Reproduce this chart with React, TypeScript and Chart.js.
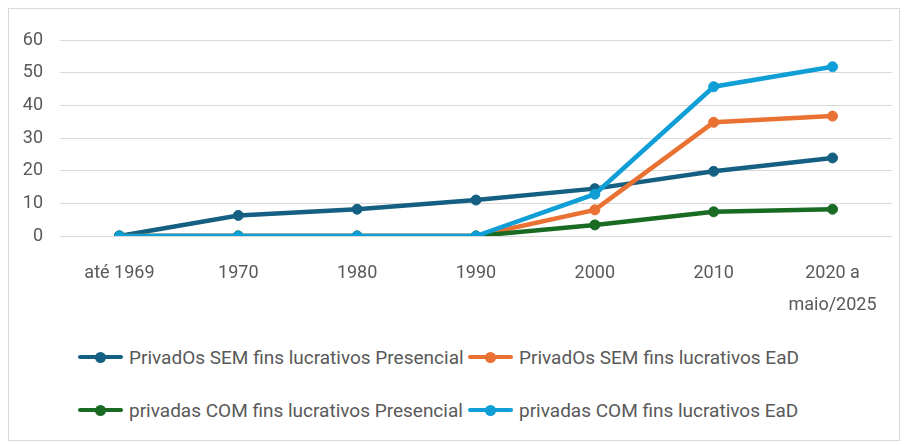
import React, { useEffect, useRef } from "react";
import { Chart, registerables } from "chart.js";

Chart.register(...registerables);

const categories: (string | string[])[] = ["até 1969", "1970", "1980", "1990", "2000", "2010", ["2020 a", "maio/2025"]];
const seriesNames = [
  "PrivadOs SEM fins lucrativos Presencial",
  "PrivadOs SEM fins lucrativos EaD",
  "privadas COM fins lucrativos Presencial",
  "privadas COM fins lucrativos EaD",
];
const semPresencial = [0, 6.3, 8.2, 11, 14.5, 19.8, 23.9];
const semEad = [0, 0, 0, 0, 8, 34.8, 36.7];
const comPresencial = [0, 0, 0, 0, 3.4, 7.4, 8.2];
const comEad = [0, 0, 0, 0, 12.8, 45.7, 51.8];
const seriesColors = ["#156082", "#E97132", "#196B24", "#0F9ED5"];
const yTicks = [0, 10, 20, 30, 40, 50, 60];

const FONT = "Roboto, 'Liberation Sans', Arial, sans-serif";
const TEXT = "#595959";

export default function App() {
  const ref = useRef<HTMLCanvasElement | null>(null);

  useEffect(() => {
    if (!ref.current) return;
    const values = [semPresencial, semEad, comPresencial, comEad];
    const orders = [3, 2, 1, 0];
    const chart = new Chart(ref.current, {
      type: "line",
      data: {
        labels: categories,
        datasets: values.map((v, i) => ({
          label: seriesNames[i],
          data: v,
          borderColor: seriesColors[i],
          backgroundColor: seriesColors[i],
          pointBackgroundColor: seriesColors[i],
          pointBorderColor: seriesColors[i],
          borderWidth: 4.5,
          pointRadius: 5,
          pointBorderWidth: 1,
          tension: 0,
          order: orders[i],
        })),
      },
      options: {
        animation: false,
        responsive: true,
        maintainAspectRatio: false,
        layout: { padding: { top: 31, right: 4, left: 0, bottom: 0 } },
        plugins: { legend: { display: false }, tooltip: { enabled: false } },
        scales: {
          x: {
            offset: true,
            grid: { display: false, drawTicks: false },
            border: { display: false },
            ticks: {
              color: TEXT,
              font: { family: FONT, size: 18, lineHeight: 1.75 },
              padding: 22,
              maxRotation: 0,
              autoSkip: false,
            },
            afterFit: (s: any) => {
              s.height = 93;
            },
          },
          y: {
            min: 0,
            max: 60,
            grid: { color: "#d9d9d9", lineWidth: 1, drawTicks: false },
            border: { display: false },
            ticks: {
              color: TEXT,
              font: { family: FONT, size: 18 },
              padding: 17,
              stepSize: 10,
              callback: (v: any) => (yTicks.includes(Number(v)) ? String(v) : ""),
            },
            afterFit: (s: any) => {
              s.width = 51;
            },
          },
        },
      },
    });
    return () => chart.destroy();
  }, []);

  const legendPos = [
    { left: 69, top: 348 },
    { left: 459, top: 348 },
    { left: 69, top: 401 },
    { left: 459, top: 401 },
  ];

  return (
    <div
      style={{
        position: "relative",
        width: 892,
        height: 433,
        boxSizing: "border-box",
        border: "1px solid #d9d9d9",
        background: "#fff",
      }}
    >
      <div style={{ position: "relative", width: 890, height: 320 }}>
        <canvas ref={ref} />
      </div>
      {seriesNames.map((name, i) => (
        <div
          key={name}
          style={{
            position: "absolute",
            left: legendPos[i].left,
            top: legendPos[i].top - 12,
            height: 24,
            display: "flex",
            alignItems: "center",
            fontFamily: FONT,
            fontSize: 19,
            color: TEXT,
            whiteSpace: "nowrap",
          }}
        >
          <span style={{ position: "relative", width: 45, height: 24, display: "inline-block", marginRight: 6 }}>
            <span
              style={{
                position: "absolute",
                left: 0,
                top: 9.75,
                width: 45,
                height: 4.5,
                background: seriesColors[i],
                borderRadius: 2,
              }}
            />
            <span
              style={{
                position: "absolute",
                left: 17,
                top: 6.5,
                width: 11,
                height: 11,
                borderRadius: "50%",
                background: seriesColors[i],
              }}
            />
          </span>
          <span>{name}</span>
        </div>
      ))}
    </div>
  );
}
